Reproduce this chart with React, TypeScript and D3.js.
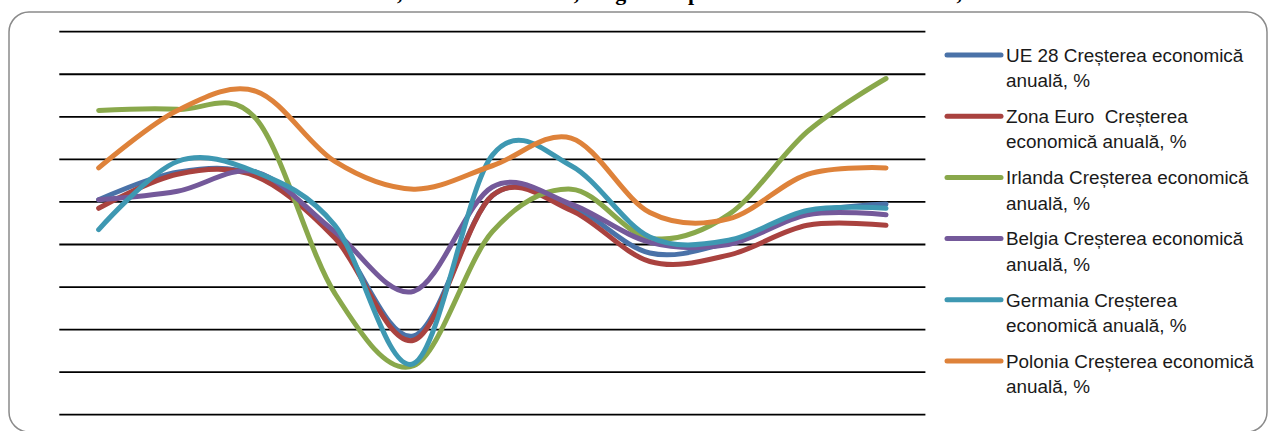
import React, { useEffect, useRef } from "react";
import * as d3 from "d3";

const years = ["2005", "2006", "2007", "2008", "2009", "2010", "2011", "2012", "2013", "2014", "2015"];
const ue28 = [2.1, 3.4, 3.25, 0.4, -4.3, 2.3, 1.8, -0.4, 0.1, 1.5, 1.9];
const zonaEuro = [1.7, 3.3, 3.2, 0.3, -4.5, 2.3, 1.6, -0.8, -0.5, 0.9, 0.9];
const irlanda = [6.3, 6.35, 5.9, -2.3, -5.7, 0.6, 2.6, 0.3, 1.4, 5.3, 7.8];
const belgia = [2.1, 2.5, 3.4, 0.6, -2.2, 2.7, 1.9, 0.1, 0.0, 1.4, 1.4];
const germania = [0.7, 3.9, 3.4, 0.9, -5.6, 4.2, 3.7, 0.35, 0.2, 1.6, 1.7];
const polonia = [3.6, 6.3, 7.2, 3.9, 2.6, 3.7, 5.0, 1.5, 1.2, 3.3, 3.6];

const seriesValues = [ue28, zonaEuro, irlanda, belgia, germania, polonia];
const seriesColors = ["#4A72A8", "#A9423F", "#89A84B", "#74599A", "#3E98B2", "#DE823A"];
const legendLabels = [
  ["UE 28 Creșterea economică", "anuală, %"],
  ["Zona Euro  Creșterea", "economică anuală, %"],
  ["Irlanda Creșterea economică", "anuală, %"],
  ["Belgia Creșterea economică", "anuală, %"],
  ["Germania Creșterea", "economică anuală, %"],
  ["Polonia Creșterea economică", "anuală, %"],
];
const yTicks = [-8, -6, -4, -2, 0, 2, 4, 6, 8, 10];
const titleText =
  "Dinamica anuală a PIB real, UE 28/Zona Euro, Belgia comparativ cu alte state membre, 2005–2015";

export default function App() {
  const ref = useRef<SVGSVGElement>(null);

  useEffect(() => {
    const svg = d3.select(ref.current);
    svg.selectAll("*").remove();

    const W = 1276;
    const H = 431;
    const plotLeft = 59.3;
    const plotRight = 925.4;
    const plotTop = 31.7;
    const plotBottom = 414.7;

    const x = d3.scalePoint<string>().domain(years).range([plotLeft, plotRight]).padding(0.5);
    const y = d3.scaleLinear().domain([-8, 10]).range([plotBottom, plotTop]);

    svg.append("rect").attr("width", W).attr("height", H).attr("fill", "#fff");

    // title (cut off at the top of the picture, only descenders show)
    svg
      .append("text")
      .attr("x", 137)
      .attr("y", -0.5)
      .attr("font-family", "'Liberation Serif', 'Times New Roman', serif")
      .attr("font-weight", "bold")
      .attr("font-size", 22)
      .attr("fill", "#000")
      .text(titleText);

    // rounded frame
    svg
      .append("rect")
      .attr("x", 9)
      .attr("y", 12)
      .attr("width", 1258)
      .attr("height", 420)
      .attr("rx", 20)
      .attr("ry", 20)
      .attr("fill", "none")
      .attr("stroke", "#8a8a8a")
      .attr("stroke-width", 1.5);

    // gridlines
    svg
      .append("g")
      .selectAll("line")
      .data(yTicks)
      .join("line")
      .attr("x1", plotLeft)
      .attr("x2", plotRight)
      .attr("y1", (d) => y(d))
      .attr("y2", (d) => y(d))
      .attr("stroke", "#000")
      .attr("stroke-width", 1.8);

    const line = d3
      .line<number>()
      .x((_, i) => x(years[i]) as number)
      .y((d) => y(d))
      .curve(d3.curveCardinal.tension(0));

    svg
      .append("g")
      .selectAll("path")
      .data(seriesValues)
      .join("path")
      .attr("d", (d) => line(d))
      .attr("fill", "none")
      .attr("stroke", (_, i) => seriesColors[i])
      .attr("stroke-width", 5)
      .attr("stroke-linecap", "round")
      .attr("stroke-linejoin", "round");

    // legend
    const legendX0 = 947;
    const legendX1 = 1001;
    const legendTextX = 1006;
    const legendTop = 55;
    const legendStep = 61.2;
    const lg = svg.append("g");
    legendLabels.forEach((lines, i) => {
      const ly = legendTop + i * legendStep;
      lg.append("line")
        .attr("x1", legendX0)
        .attr("x2", legendX1)
        .attr("y1", ly)
        .attr("y2", ly)
        .attr("stroke", seriesColors[i])
        .attr("stroke-width", 5)
        .attr("stroke-linecap", "round");
      const t = lg
        .append("text")
        .attr("font-family", "'Liberation Sans', Arial, sans-serif")
        .attr("font-size", 18.9)
        .attr("fill", "#1a1a1a")
        .style("white-space", "pre");
      lines.forEach((s, j) => {
        t.append("tspan")
          .attr("x", legendTextX)
          .attr("y", ly + 6.8 + j * 25.4)
          .text(s);
      });
    });
  }, []);

  return (
    <svg
      ref={ref}
      width={1276}
      height={431}
      style={{ position: "absolute", left: 0, top: 0, display: "block" }}
    />
  );
}
